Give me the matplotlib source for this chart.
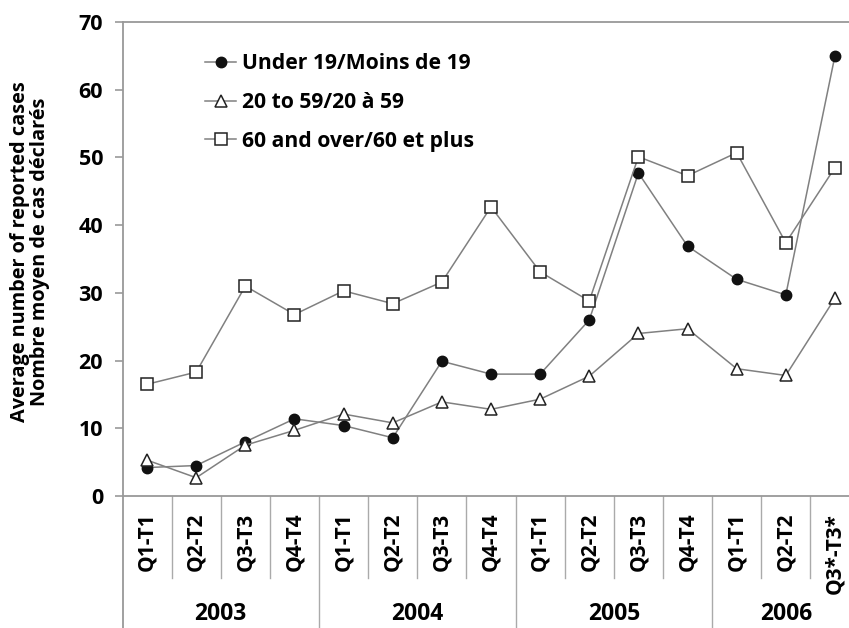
import numpy as np
import matplotlib
matplotlib.use("Agg")
import matplotlib.pyplot as plt

quarters = ["Q1-T1", "Q2-T2", "Q3-T3", "Q4-T4"] * 3 + ["Q1-T1", "Q2-T2", "Q3*-T3*"]
years = ["2003", "2004", "2005", "2006"]

under19 = [4.2, 4.5, 8.0, 11.4, 10.4, 8.6, 19.9, 18.0, 18.0, 26.0, 47.7, 36.9, 32.0, 29.7, 65.0]
age20_59 = [5.3, 2.7, 7.5, 9.7, 12.1, 10.8, 13.9, 12.8, 14.3, 17.7, 24.0, 24.7, 18.8, 17.8, 29.2]
age60 = [16.5, 18.3, 31.0, 26.8, 30.3, 28.4, 31.6, 42.7, 33.1, 28.8, 50.1, 47.3, 50.7, 37.4, 48.5]

plt.rcParams["font.family"] = ["Open Sans", "DejaVu Sans"]
plt.rcParams["font.weight"] = "bold"

fig = plt.figure(figsize=(8.49, 6.28), dpi=100)
W, H = 849, 628
left, right, top, bottom = 122.5, 859.5, 22, 496
ax = fig.add_axes([left / W, 1 - bottom / H, (right - left) / W, (bottom - top) / H])

x = np.arange(len(quarters))
line_col = "#808080"
ax.plot(x, under19, color=line_col, lw=1.1, marker="o", ms=7.5,
        mfc="#111111", mec="#111111", label="Under 19/Moins de 19")
ax.plot(x, age20_59, color=line_col, lw=1.1, marker="^", ms=9,
        mfc="white", mec="#222222", mew=1.1, label="20 to 59/20 à 59")
ax.plot(x, age60, color=line_col, lw=1.1, marker="s", ms=8.5,
        mfc="white", mec="#222222", mew=1.1, label="60 and over/60 et plus")

ax.set_xlim(-0.5, len(quarters) - 0.5)
ax.set_ylim(0, 70)
ax.set_yticks(range(0, 71, 10))
ax.tick_params(axis="y", labelsize=15.5, colors="#999999", labelcolor="black",
               length=6, width=1.2, pad=8)
for lab in ax.get_yticklabels():
    lab.set_fontweight("bold")

ax.set_xticks(x)
ax.set_xticklabels(quarters, rotation=90, fontsize=15, fontweight="bold")
ax.tick_params(axis="x", length=0, pad=12)

ax.spines["right"].set_visible(False)
for s in ["left", "top", "bottom"]:
    ax.spines[s].set_color("#999999")
    ax.spines[s].set_linewidth(1.3)

# category separators below the axis
trans = ax.get_xaxis_transform()
sep_col = "#aaaaaa"
for i in range(len(quarters) - 1):
    xs = i + 0.5
    depth = -0.28 if i in (3, 7, 11) else -0.173
    ax.plot([xs, xs], [0, depth], transform=trans, color=sep_col, lw=1, clip_on=False)
ax.plot([-0.5, -0.5], [0, -0.28], transform=trans, color="#999999", lw=1.3, clip_on=False)

for k, yr in enumerate(years):
    xc = 1.5 + 4 * k if k < 3 else 13
    ax.text(xc, -0.25, yr, transform=trans, ha="center", va="center",
            fontsize=16.5, fontweight="bold")

fig.text(30 / W, 1 - 252 / H, "Average number of reported cases\nNombre moyen de cas déclarés",
         rotation=90, ha="center", va="center", fontsize=14.3, fontweight="bold",
         linespacing=1.0)

leg = ax.legend(loc="upper left", bbox_to_anchor=(0.101, 0.952), frameon=False,
                fontsize=15.2, handlelength=1.45, handletextpad=0.3, labelspacing=0.84,
                borderaxespad=0)
for t in leg.get_texts():
    t.set_fontweight("bold")

fig.savefig("out.png", dpi=100)
